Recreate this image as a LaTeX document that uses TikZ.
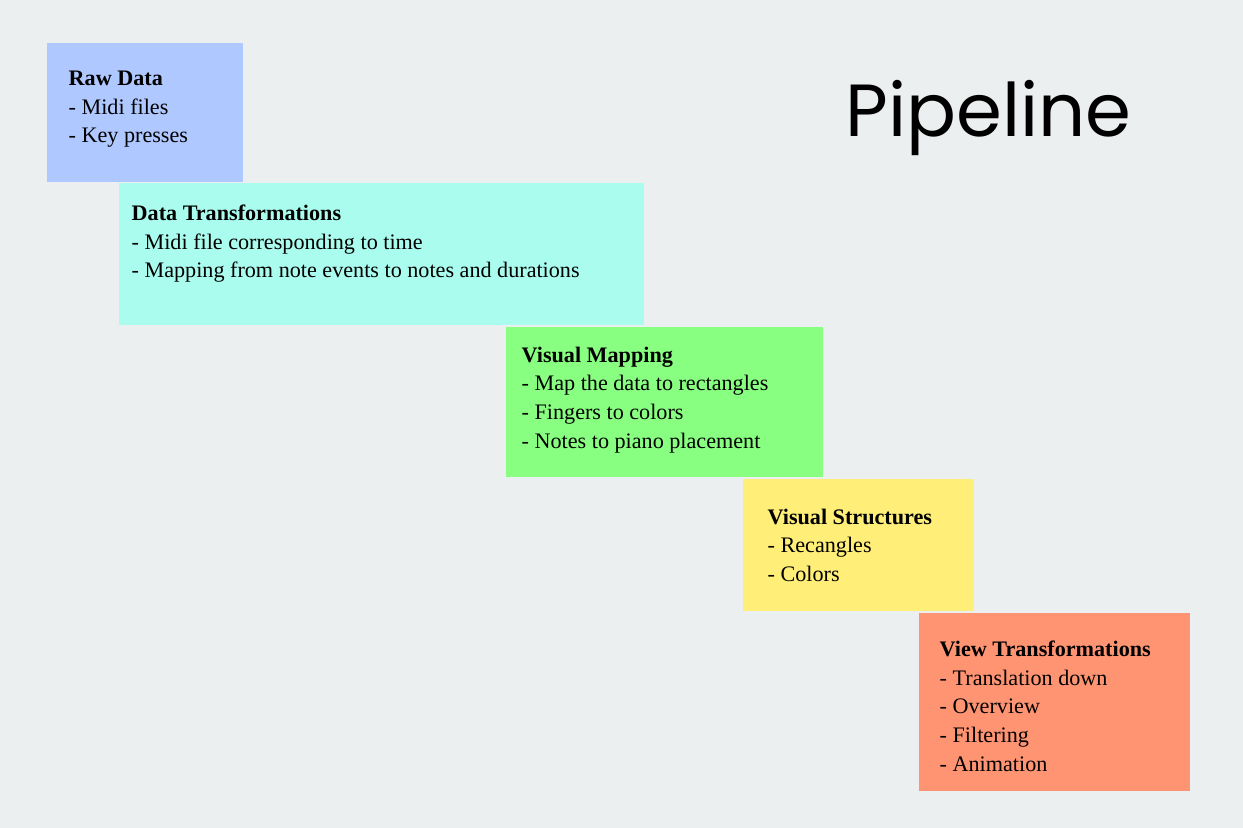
\documentclass[tikz,border=0pt]{standalone}
\usepackage{fontspec}
\setmainfont{Liberation Serif}
\newfontfamily\titlefont{Poppins}
\usetikzlibrary{positioning}
\definecolor{bgc}{HTML}{ECEFEF}
\definecolor{rawc}{HTML}{AFC8FF}
\definecolor{transc}{HTML}{AAFCEE}
\definecolor{mapc}{HTML}{88FF80}
\definecolor{structc}{HTML}{FFEE77}
\definecolor{viewc}{HTML}{FF9473}
\tikzset{
  stage/.style={rectangle, draw=none, inner sep=0pt, anchor=north west},
  stagetext/.style={anchor=north west, inner sep=0pt, align=left,
    font=\fontsize{6.3}{8.2}\selectfont}
}
\begin{document}
\begin{tikzpicture}[x=0.01cm, y=-0.01cm]
  % background
  \fill[bgc] (0,0) rectangle (1243,828);
  \useasboundingbox (0,0) rectangle (1243,828);

  % Title
  \node[anchor=base west, inner sep=0pt, font=\titlefont\fontsize{21}{21}\selectfont] (title) at (845,137) {Pipeline};

  % Stage boxes
  \node[stage, fill=rawc, minimum width=1.96cm, minimum height=1.39cm] (raw) at (46,42) {};
  \node[stage, fill=transc, minimum width=5.25cm, minimum height=1.42cm] (trans) at (118,182) {};
  \node[stage, fill=mapc, minimum width=3.17cm, minimum height=1.50cm] (map) at (505,326) {};
  \node[stage, fill=structc, minimum width=2.31cm, minimum height=1.32cm] (struct) at (742,478) {};
  \node[stage, fill=viewc, minimum width=2.71cm, minimum height=1.78cm] (view) at (918,612) {};

  % Stage texts
  \node[stagetext] (rawtxt) at ([shift={(22,28)}]raw.north west)
    {\textbf{Raw Data}\\- Midi files\\- Key presses};
  \node[stagetext] (transtxt) at ([shift={(13,22)}]trans.north west)
    {\textbf{Data Transformations}\\- Midi file corresponding to time\\- Mapping from note events to notes and durations};
  \node[stagetext] (maptxt) at ([shift={(16,20)}]map.north west)
    {\textbf{Visual Mapping}\\- Map the data to rectangles\\- Fingers to colors\\- Notes to piano placement};
  \node[stagetext] (structtxt) at ([shift={(25,30)}]struct.north west)
    {\textbf{Visual Structures}\\- Recangles\\- Colors};
  \node[stagetext] (viewtxt) at ([shift={(21,28)}]view.north west)
    {\textbf{View Transformations}\\- Translation down\\- Overview\\- Filtering\\- Animation};
\end{tikzpicture}
\end{document}
